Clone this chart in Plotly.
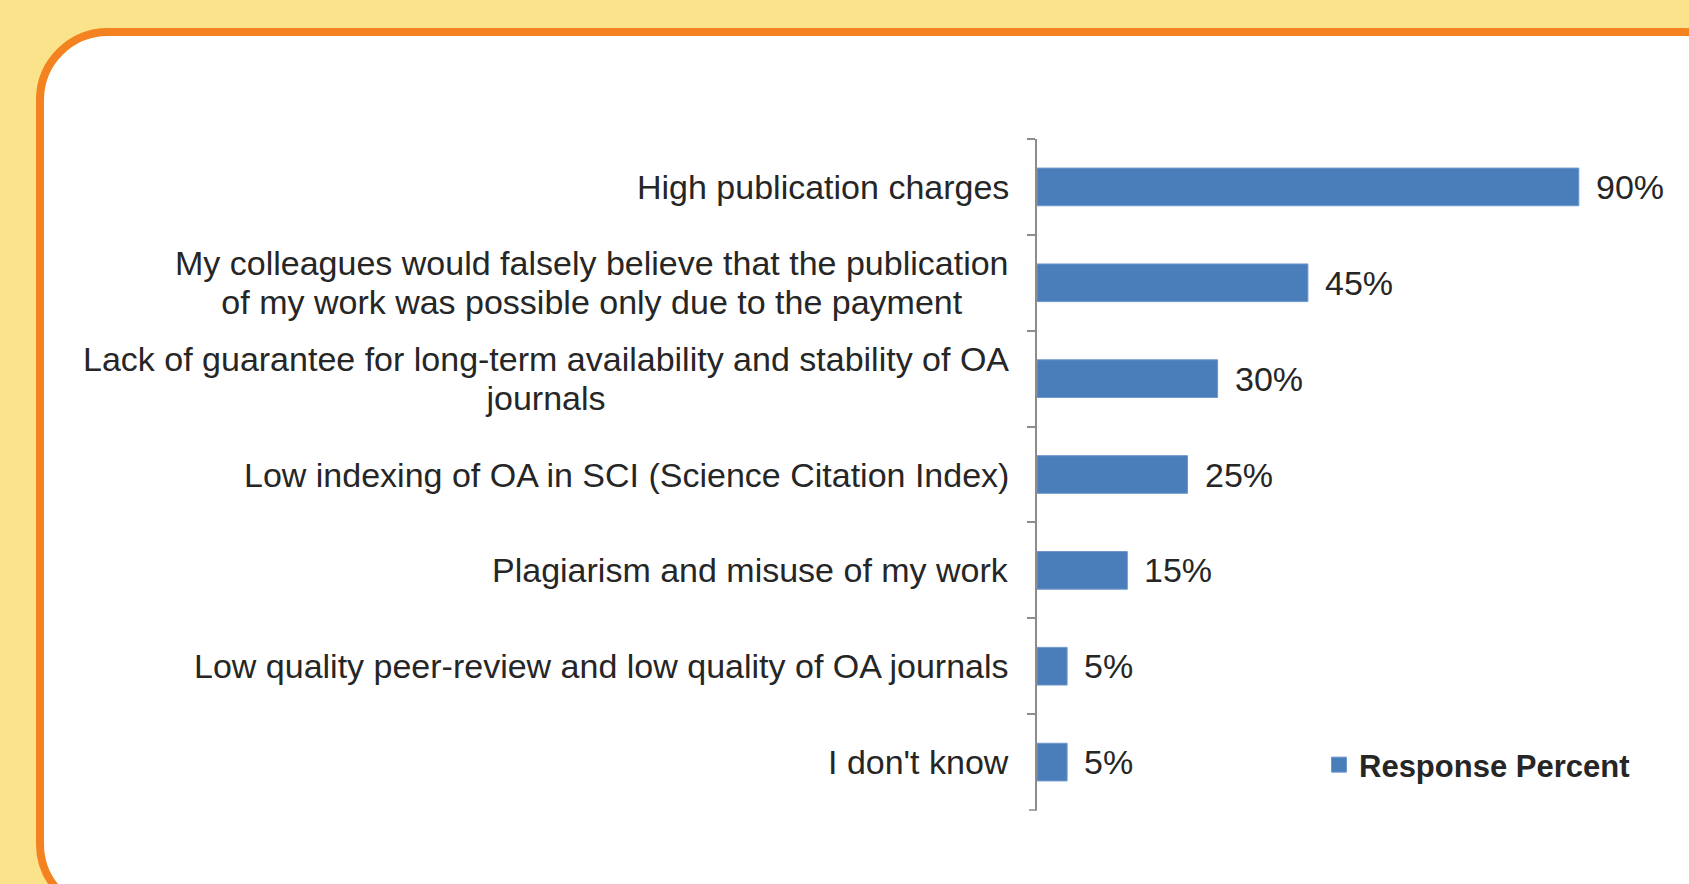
import plotly.graph_objects as go

# ---- data ----
categories = [
    "High publication charges",
    "My colleagues would falsely believe that the publication<br>of my work was possible only due to the payment",
    "Lack of guarantee for long-term availability and stability of OA<br>journals",
    "Low indexing of OA in SCI (Science Citation Index)",
    "Plagiarism and misuse of my work",
    "Low quality peer-review and low quality of OA journals",
    "I don't know",
]
values = [90, 45, 30, 25, 15, 5, 5]
series_name = "Response Percent"

# ---- geometry / style ----
W, H = 1689, 884
ML, MR, MT, MB = 1037, 50, 139, 74
PW, PH = W - ML - MR, H - MT - MB
FONT = "Liberation Sans, Arial, sans-serif"
TXT = "#262626"
BAR = "#4A7EBB"
AX = "#8C8C8C"
TICKLEN = 8


def px(X):
    return (X - ML) / PW


def py(Y):
    return (H - MB - Y) / PH


def rounded_path(x0, y0, x1, y1, r):
    k = 0.5523 * r
    pts = [
        ("M", [(x0 + r, y0)]),
        ("L", [(x1 - r, y0)]),
        ("C", [(x1 - r + k, y0), (x1, y0 + r - k), (x1, y0 + r)]),
        ("L", [(x1, y1 - r)]),
        ("C", [(x1, y1 - r + k), (x1 - r + k, y1), (x1 - r, y1)]),
        ("L", [(x0 + r, y1)]),
        ("C", [(x0 + r - k, y1), (x0, y1 - r + k), (x0, y1 - r)]),
        ("L", [(x0, y0 + r)]),
        ("C", [(x0, y0 + r - k), (x0 + r - k, y0), (x0 + r, y0)]),
    ]
    s = ""
    for cmd, ps in pts:
        s += cmd + " ".join(f"{px(a):.5f},{py(b):.5f}" for a, b in ps)
    return s + "Z"


fig = go.Figure()
fig.add_trace(go.Bar(
    x=values,
    y=categories,
    orientation="h",
    name=series_name,
    marker=dict(color=BAR, line=dict(color="#6F98CC", width=1)),
    width=0.393,
    showlegend=False,
    hoverinfo="skip",
))
# legend entry for the series (square swatch)
fig.add_trace(go.Scatter(
    x=[None], y=[None], mode="markers",
    name="<b>" + series_name + "</b>",
    marker=dict(symbol="square", size=15, color=BAR, line=dict(color="#6F98CC", width=1)),
    showlegend=True, hoverinfo="skip",
))

annotations = []
# category labels (centered multi-line, right anchored)
for c in categories:
    lines = c.split("<br>")
    txt = "<br>".join(f"<span style='font-size:34px'>{ln}</span>" for ln in lines)
    annotations.append(dict(
        x=0, xref="x", y=c, yref="y", xanchor="right", yanchor="middle",
        xshift=-26, text=txt, showarrow=False, align="center",
        font=dict(family=FONT, size=29.8, color=TXT),
    ))
# value labels
for c, v in zip(categories, values):
    annotations.append(dict(
        x=v, xref="x", y=c, yref="y", xanchor="left", yanchor="middle",
        xshift=15, text=f"{v}%", showarrow=False,
        font=dict(family=FONT, size=34, color=TXT),
    ))

fig.update_layout(
    width=W, height=H,
    margin=dict(l=ML, r=MR, t=MT, b=MB, pad=0),
    paper_bgcolor="#FAE38A",
    plot_bgcolor="rgba(0,0,0,0)",
    font=dict(family=FONT, size=34, color=TXT),
    shapes=[
        dict(
            type="path", xref="paper", yref="paper", layer="below",
            path=rounded_path(40, 32, 1752, 912, 68),
            fillcolor="white", line=dict(color="#F58220", width=8),
        ),
        # closing boundary tick at the bottom end of the category axis
        dict(
            type="line", xref="paper", yref="paper", layer="above",
            x0=-TICKLEN / PW, x1=0, y0=0, y1=0,
            line=dict(color=AX, width=1.5),
        ),
    ],
    annotations=annotations,
    xaxis=dict(range=[0, 100], visible=False, fixedrange=True),
    yaxis=dict(
        type="category", categoryorder="array", categoryarray=categories,
        range=[len(categories) - 0.5, -0.5],
        showticklabels=False, showgrid=False, zeroline=False,
        showline=True, linecolor=AX, linewidth=1.5,
        ticks="outside", tickson="boundaries", ticklen=TICKLEN,
        tickcolor=AX, tickwidth=1.5, fixedrange=True,
    ),
    legend=dict(
        x=px(1319), y=py(765), xanchor="left", yanchor="middle",
        bgcolor="rgba(0,0,0,0)", borderwidth=0,
        font=dict(family=FONT, size=31, color=TXT),
    ),
    showlegend=True,
)

fig.write_html(
    "out.html",
    config={"displayModeBar": False},
    post_script="document.body.style.margin='0';document.body.style.overflow='hidden';",
)
